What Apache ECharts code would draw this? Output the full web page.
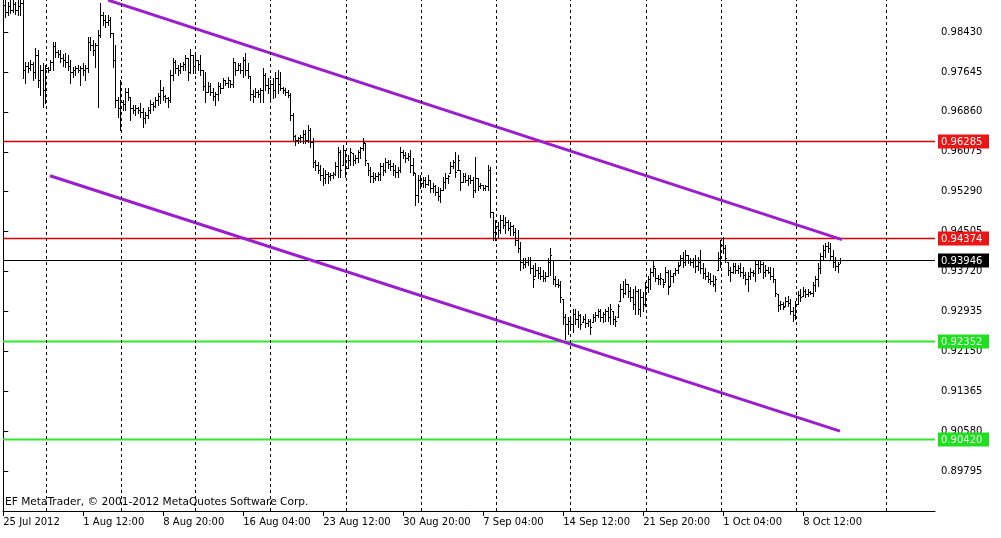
<!DOCTYPE html>
<html><head><meta charset="utf-8">
<script src="https://cdn.jsdelivr.net/npm/echarts@6/dist/echarts.min.js"></script>
<style>html,body{margin:0;padding:0;background:#fff}#c{width:1001px;height:538px}</style>
</head><body><div id="c"></div>
<script>
// H4 OHLC bars, one entry per bar
const opens = [
.98901,.98960,.98822,.98940,.98862,.98979,.98862,.98940,.98999,.97684,
.97763,.97723,.97802,.97645,.97979,.97488,.97684,.97292,.97723,.97684,
.97841,.98155,.98037,.97998,.97920,.97880,.97841,.97763,.97645,.97684,
.97723,.97684,.97723,.97684,.97723,.98234,.98175,.98077,.98175,.98371,
.98764,.98665,.98626,.98665,.98410,.97880,.97095,.96938,.97056,.97017,
.97252,.97154,.96938,.96899,.96938,.96899,.96860,.96742,.96801,.96899,
.97017,.96978,.97095,.97174,.97292,.97174,.97135,.97095,.97586,.97841,
.97723,.97684,.97763,.97802,.97920,.97645,.97979,.97763,.97880,.97802,
.97684,.97370,.97252,.97370,.97252,.97174,.97213,.97370,.97331,.97488,
.97429,.97488,.97409,.97841,.97684,.97782,.97684,.97880,.97684,.97566,
.97213,.97174,.97252,.97213,.97292,.97586,.97390,.97331,.97409,.97292,
.97527,.97409,.97331,.97292,.97252,.97194,.96801,.96389,.96310,.96350,
.96369,.96428,.96310,.96507,.96271,.95879,.95820,.95722,.95624,.95565,
.95643,.95604,.95624,.95643,.95800,.96075,.95820,.96114,.95761,.95918,
.96055,.95918,.95957,.96075,.96153,.96252,.95859,.95722,.95604,.95565,
.95604,.95643,.95800,.95722,.95879,.95839,.95800,.95722,.95682,.95722,
.96075,.96016,.95957,.95996,.95820,.95663,.95231,.95525,.95467,.95525,
.95447,.95525,.95368,.95408,.95290,.95211,.95329,.95486,.95565,.95663,
.95800,.95879,.95722,.95722,.95486,.95604,.95525,.95565,.95525,.95329,
.95565,.95408,.95427,.95368,.95408,.95722,.94897,.94505,.94623,.94544,
.94740,.94642,.94701,.94583,.94623,.94505,.94348,.94191,.93916,.93877,
.93916,.93955,.93798,.93622,.93759,.93681,.93641,.93602,.93641,.93916,
.93955,.93563,.93484,.93445,.93170,.92817,.92680,.92739,.92680,.92876,
.92778,.92856,.92719,.92778,.92699,.92739,.92719,.92817,.92856,.92935,
.92817,.92876,.92935,.92817,.92935,.92778,.92817,.93131,.93367,.93288,
.93465,.93327,.93210,.93072,.93327,.92974,.93210,.93072,.93406,.93563,
.93720,.93798,.93602,.93563,.93563,.93504,.93720,.93426,.93641,.93681,
.93759,.93857,.93995,.93916,.94054,.93955,.93916,.93955,.93838,.93916,
.93798,.93681,.93641,.93563,.93524,.93484,.93759,.93995,.94250,.94191,
.93916,.93759,.93720,.93838,.93759,.93798,.93720,.93661,.93563,.93641,
.93720,.93681,.93877,.93798,.93877,.93720,.93759,.93720,.93641,.93563,
.93269,.93053,.93072,.93033,.93131,.93092,.92935,.92856,.93072,.93249,
.93229,.93327,.93269,.93308,.93288,.93445,.93563,.93798,.94034,.94152,
.94230,.94191,.94034,.93916,.93838,.93955];
const highs = [
.99080,.99100,.99019,.99090,.99070,.99019,.99110,.99080,.99060,.97841,
.97841,.97880,.97841,.98116,.98077,.97782,.97822,.97782,.97743,.97880,
.98234,.98234,.98077,.98077,.97998,.98018,.97979,.97880,.97743,.97763,
.97782,.97763,.97822,.97782,.98332,.98332,.98273,.98214,.98469,.98999,
.98822,.98764,.98764,.98724,.98410,.98175,.97154,.97488,.97095,.97331,
.97331,.97154,.96997,.96997,.96958,.97037,.96938,.96860,.96958,.97095,
.97056,.97154,.97233,.97488,.97351,.97194,.97154,.97684,.97920,.97880,
.97782,.97822,.97841,.97979,.97920,.98096,.97979,.97979,.97880,.97979,
.97684,.97645,.97449,.97429,.97331,.97252,.97449,.97429,.97527,.97488,
.97547,.97488,.97920,.97841,.97822,.97822,.97939,.98018,.97822,.97566,
.97292,.97331,.97292,.97331,.97723,.97625,.97527,.97488,.97527,.97645,
.97684,.97645,.97351,.97331,.97292,.97233,.96840,.96409,.96369,.96409,
.96507,.96507,.96605,.96546,.96350,.95918,.95879,.95820,.95761,.95722,
.95682,.95663,.95682,.95879,.96173,.96114,.96212,.96114,.96016,.96153,
.96055,.96016,.96114,.96173,.96350,.96252,.95859,.95781,.95682,.95663,
.95682,.95859,.95859,.95957,.95918,.95918,.95859,.95820,.95781,.96173,
.96114,.96075,.96055,.96114,.95957,.95663,.95624,.95624,.95584,.95584,
.95624,.95525,.95467,.95427,.95388,.95368,.95584,.95663,.95624,.95879,
.95918,.96075,.96016,.95722,.95663,.95663,.95624,.95624,.95584,.95977,
.95565,.95467,.95427,.95427,.95820,.95781,.94897,.94740,.94701,.94839,
.94839,.94799,.94740,.94701,.94642,.94583,.94544,.94309,.93995,.93995,
.94014,.94014,.93857,.93897,.93818,.93818,.93759,.93720,.93995,.94191,
.93955,.93622,.93563,.93524,.93170,.92876,.92817,.92778,.92974,.92974,
.92935,.92876,.92837,.92876,.92778,.92778,.92876,.92915,.92974,.92974,
.92915,.92974,.93013,.93072,.92935,.92837,.93072,.93465,.93524,.93563,
.93465,.93406,.93367,.93426,.93367,.93367,.93308,.93504,.93622,.93798,
.93955,.93798,.93661,.93700,.93563,.93818,.93759,.93759,.93700,.93798,
.93916,.94054,.94112,.94152,.94054,.93995,.93995,.94054,.94014,.94152,
.93897,.93798,.93720,.93700,.93661,.93622,.94112,.94348,.94407,.94250,
.93916,.93818,.93897,.93897,.93857,.93897,.93818,.93720,.93720,.93798,
.93759,.93955,.93955,.93955,.93916,.93857,.93818,.93818,.93798,.93563,
.93269,.93131,.93112,.93210,.93229,.93170,.93013,.93131,.93327,.93367,
.93406,.93367,.93367,.93327,.93504,.93622,.93897,.94093,.94250,.94289,
.94309,.94289,.94152,.94014,.93916,.93995];
const lows = [
.98803,.98724,.98764,.98803,.98822,.98783,.98764,.98764,.97527,.97429,
.97645,.97684,.97488,.97527,.97351,.97194,.96958,.97037,.97645,.97684,
.97684,.97939,.97939,.97841,.97763,.97743,.97684,.97429,.97547,.97586,
.97645,.97390,.97586,.97488,.97645,.98077,.97979,.97743,.96958,.98332,
.98567,.98528,.98567,.98332,.97743,.96958,.96762,.96507,.96899,.96899,
.97095,.96703,.96840,.96801,.96840,.96762,.96566,.96644,.96742,.96840,
.96899,.96958,.96997,.97037,.97095,.97056,.96958,.97056,.97488,.97625,
.97586,.97625,.97684,.97684,.97488,.97625,.97625,.97625,.97684,.97586,
.97292,.97056,.97252,.97194,.97095,.96997,.97095,.97233,.97331,.97390,
.97351,.97351,.97351,.97586,.97684,.97625,.97547,.97586,.97527,.97095,
.97056,.97154,.97154,.97056,.97056,.97292,.97233,.97095,.97135,.97154,
.97233,.97292,.97233,.97194,.97154,.96703,.96310,.96212,.96252,.96271,
.96252,.96252,.96271,.96173,.95781,.95722,.95663,.95525,.95427,.95467,
.95467,.95525,.95565,.95624,.95584,.95584,.95820,.95584,.95761,.95820,
.95820,.95859,.95879,.95957,.96114,.95820,.95624,.95486,.95486,.95525,
.95525,.95525,.95624,.95682,.95761,.95722,.95624,.95584,.95584,.95682,
.95957,.95879,.95918,.95682,.95624,.95035,.95094,.95368,.95388,.95388,
.95427,.95290,.95290,.95231,.95133,.95094,.95329,.95368,.95467,.95663,
.95761,.95584,.95722,.95329,.95486,.95486,.95427,.95467,.95192,.95290,
.95329,.95368,.95329,.95329,.95329,.94799,.94348,.94348,.94407,.94485,
.94583,.94485,.94544,.94446,.94446,.94250,.94112,.93759,.93798,.93818,
.93857,.93700,.93406,.93622,.93602,.93563,.93524,.93524,.93622,.93661,
.93465,.93426,.93406,.93112,.92680,.92385,.92484,.92582,.92523,.92680,
.92621,.92582,.92719,.92621,.92641,.92484,.92719,.92739,.92817,.92739,
.92719,.92739,.92739,.92680,.92680,.92641,.92817,.93131,.93210,.93269,
.93210,.93131,.92974,.92876,.92876,.92837,.92935,.93033,.93308,.93367,
.93622,.93524,.93465,.93465,.93406,.93504,.93269,.93426,.93504,.93661,
.93700,.93857,.93818,.93857,.93897,.93857,.93818,.93720,.93759,.93700,
.93602,.93563,.93504,.93465,.93426,.93327,.93759,.93818,.94093,.93916,
.93661,.93524,.93700,.93700,.93700,.93622,.93602,.93465,.93327,.93563,
.93622,.93524,.93700,.93720,.93602,.93622,.93700,.93563,.93504,.93229,
.92935,.92974,.92974,.93033,.93033,.92876,.92739,.92778,.93072,.93131,
.93229,.93210,.93229,.93269,.93229,.93327,.93426,.93700,.93955,.94014,
.94112,.93955,.93818,.93759,.93720,.93897];
const closes = [
.98960,.98822,.98940,.98862,.98979,.98862,.98940,.98999,.97684,.97763,
.97723,.97802,.97645,.97979,.97488,.97684,.97292,.97723,.97684,.97841,
.98155,.98037,.97998,.97920,.97880,.97841,.97763,.97645,.97684,.97723,
.97684,.97723,.97684,.97723,.98234,.98175,.98077,.98175,.98371,.98764,
.98665,.98626,.98665,.98410,.97880,.97095,.96938,.97056,.97017,.97252,
.97154,.96938,.96899,.96938,.96899,.96860,.96742,.96801,.96899,.97017,
.96978,.97095,.97174,.97292,.97174,.97135,.97095,.97586,.97841,.97723,
.97684,.97763,.97802,.97920,.97645,.97979,.97763,.97880,.97802,.97684,
.97370,.97252,.97370,.97252,.97174,.97213,.97370,.97331,.97488,.97429,
.97488,.97409,.97841,.97684,.97782,.97684,.97880,.97684,.97566,.97213,
.97174,.97252,.97213,.97292,.97586,.97390,.97331,.97409,.97292,.97527,
.97409,.97331,.97292,.97252,.97194,.96801,.96389,.96310,.96350,.96369,
.96428,.96310,.96507,.96271,.95879,.95820,.95722,.95624,.95565,.95643,
.95604,.95624,.95643,.95800,.96075,.95722,.96114,.95761,.95918,.96075,
.95918,.95957,.96075,.96153,.96271,.95918,.95722,.95604,.95565,.95604,
.95643,.95800,.95722,.95879,.95839,.95800,.95722,.95682,.95722,.96075,
.96016,.95957,.95996,.95820,.95682,.95231,.95525,.95467,.95525,.95447,
.95525,.95368,.95408,.95290,.95211,.95329,.95486,.95565,.95604,.95800,
.95879,.95682,.95918,.95486,.95604,.95525,.95565,.95525,.95329,.95565,
.95408,.95427,.95368,.95408,.95722,.94897,.94505,.94623,.94544,.94740,
.94642,.94701,.94583,.94623,.94505,.94348,.94191,.93916,.93877,.93916,
.93955,.93798,.93563,.93759,.93681,.93641,.93602,.93641,.93916,.94054,
.93563,.93484,.93445,.93210,.92817,.92680,.92739,.92680,.92876,.92778,
.92856,.92680,.92778,.92699,.92739,.92621,.92817,.92856,.92935,.92817,
.92876,.92935,.92817,.92974,.92778,.92739,.93033,.93367,.93288,.93465,
.93327,.93210,.93072,.93327,.92974,.93210,.93072,.93406,.93563,.93720,
.93838,.93602,.93563,.93602,.93484,.93720,.93406,.93641,.93681,.93759,
.93838,.93995,.93916,.94054,.93955,.93916,.93955,.93838,.93916,.93798,
.93681,.93641,.93563,.93524,.93484,.93563,.93995,.94250,.94191,.93995,
.93759,.93720,.93838,.93759,.93798,.93720,.93661,.93563,.93641,.93720,
.93681,.93877,.93798,.93877,.93720,.93759,.93720,.93641,.93563,.93288,
.93053,.93072,.93013,.93131,.93092,.92935,.92856,.93072,.93249,.93210,
.93327,.93269,.93308,.93288,.93445,.93563,.93798,.94034,.94152,.94230,
.94191,.94034,.93916,.93838,.93877,.93946];

const timeLabels = ['25 Jul 2012','1 Aug 12:00','8 Aug 20:00','16 Aug 04:00','23 Aug 12:00','30 Aug 20:00','7 Sep 04:00','14 Sep 12:00','21 Sep 20:00','1 Oct 04:00','8 Oct 12:00'];
const labelBars = [0,32,64,96,128,160,192,224,256,288,320];
const weekBars = [17,47,77,107,137,167,197,227,257,287,317,353];
const priceTicks = [0.89795,0.90580,0.91365,0.92150,0.92935,0.93720,0.94505,0.95290,0.96075,0.96860,0.97645,0.98430];
const resistanceLevels = [0.96285, 0.94374];
const supportLevels = [0.92352, 0.90420];
const bidPrice = 0.93946;
const upperChannel = [[41.9, 0.99058], [335.5, 0.94348]];
const lowerChannel = [[18.7, 0.95604], [334.7, 0.90580]];

const FONT = '"DejaVu Sans", Tahoma, sans-serif';
const chart = echarts.init(document.getElementById('c'), null, {renderer: 'canvas'});

const ohlc = opens.map((o, i) => [i, o, highs[i], lows[i], closes[i]]);

const levelValues = [resistanceLevels[0], resistanceLevels[1], bidPrice, supportLevels[0], supportLevels[1]];
const RED = {line: '#e00000', width: 1.4, tag: '#ec1414', text: '#ffffff'};
const BLK = {line: '#000000', width: 1, tag: '#000000', text: '#ffffff'};
const GRN = {line: '#2ee82e', width: 1.8, tag: '#1ee01e', text: '#f2fff2'};
const levelStyles = [RED, RED, BLK, GRN, GRN];

function renderOHLC(params, api) {
  const i = api.value(0);
  const pO = api.coord([i, api.value(1)]);
  const pH = api.coord([i, api.value(2)]);
  const pL = api.coord([i, api.value(3)]);
  const pC = api.coord([i, api.value(4)]);
  const col = Math.floor(pO[0]);
  const x = col + 0.5;
  const yo = Math.round(pO[1]) + 0.5, yc = Math.round(pC[1]) + 0.5;
  const st = {stroke: '#000', lineWidth: 1};
  return {type: 'group', children: [
    {type: 'line', shape: {x1: x, y1: Math.round(pH[1]), x2: x, y2: Math.round(pL[1]) + 1}, style: st},
    {type: 'line', shape: {x1: col - 1, y1: yo, x2: col, y2: yo}, style: st},
    {type: 'line', shape: {x1: col + 1, y1: yc, x2: col + 2, y2: yc}, style: st}
  ]};
}

function renderLevel(params, api) {
  const v = api.value(1);
  const cs = params.coordSys;
  const p = api.coord([0, v]);
  const y = Math.round(p[1]) + 0.5;
  const s = levelStyles[params.dataIndex];
  const tx = cs.x + cs.width + 3;
  return {type: 'group', children: [
    {type: 'line', shape: {x1: cs.x, y1: y, x2: cs.x + cs.width, y2: y},
      style: {stroke: s.line, lineWidth: s.width}},
    {type: 'rect', shape: {x: tx, y: y - 7, width: 51, height: 14}, style: {fill: s.tag}},
    {type: 'text', x: tx + 3, y: y + 0.5, style: {text: v.toFixed(5), fill: s.text,
      font: '10px ' + FONT, verticalAlign: 'middle', align: 'left'}}
  ]};
}

const option = {
  animation: false,
  backgroundColor: '#fff',
  grid: {left: 3, right: 66, top: 0, bottom: 27, containLabel: false},
  xAxis: {
    type: 'value', min: -0.1, max: 372.7,
    axisLine: {show: true, lineStyle: {color: '#000', width: 1}},
    axisTick: {show: true, customValues: labelBars, length: 5, lineStyle: {color: '#000'}},
    axisLabel: {show: true, customValues: labelBars, align: 'left', margin: 6,
      color: '#000', fontSize: 10, fontFamily: FONT,
      formatter: v => timeLabels[labelBars.indexOf(Math.round(v))] || ''},
    splitLine: {show: false}
  },
  yAxis: [{
    type: 'value', position: 'right', min: 0.8901, max: 0.9906,
    axisLine: {show: true, lineStyle: {color: '#000', width: 1}},
    axisTick: {show: true, customValues: priceTicks, length: 5, lineStyle: {color: '#000'}},
    axisLabel: {show: true, customValues: priceTicks, margin: 6, color: '#000',
      fontSize: 10, fontFamily: FONT, formatter: v => v.toFixed(5)},
    splitLine: {show: false}
  }, {
    type: 'value', position: 'left', min: 0.8901, max: 0.9906,
    axisLine: {show: true, onZero: false, lineStyle: {color: '#000', width: 1}},
    axisTick: {show: false}, axisLabel: {show: false}, splitLine: {show: false}
  }],
  series: [
    {
      type: 'line', data: [], z: 1, silent: true,
      markLine: {
        silent: true, symbol: ['none', 'none'], animation: false,
        label: {show: false},
        lineStyle: {color: '#000', width: 1, type: [3, 3]},
        data: weekBars.map(b => ({xAxis: b}))
      }
    },
    {
      type: 'custom', name: 'levels', renderItem: renderLevel, clip: false, z: 2, silent: true,
      data: levelValues.map(v => [0, v]), encode: {x: 0, y: 1}
    },
    {
      type: 'custom', name: 'bars', renderItem: renderOHLC, data: ohlc, clip: true, z: 3,
      encode: {x: 0, y: [1, 2, 3, 4]}, silent: true
    },
    {
      type: 'line', data: upperChannel, symbol: 'none', z: 4, silent: true,
      lineStyle: {color: '#9a1ed0', width: 3}
    },
    {
      type: 'line', data: lowerChannel, symbol: 'none', z: 4, silent: true,
      lineStyle: {color: '#9a1ed0', width: 3}
    }
  ],
  graphic: [{
    type: 'text', left: 5, top: 497, z: 10,
    style: {text: 'EF MetaTrader, \u00a9 2001-2012 MetaQuotes Software Corp.',
      font: '10.6px ' + FONT, fill: '#000'}
  }]
};
chart.setOption(option);
</script></body></html>
